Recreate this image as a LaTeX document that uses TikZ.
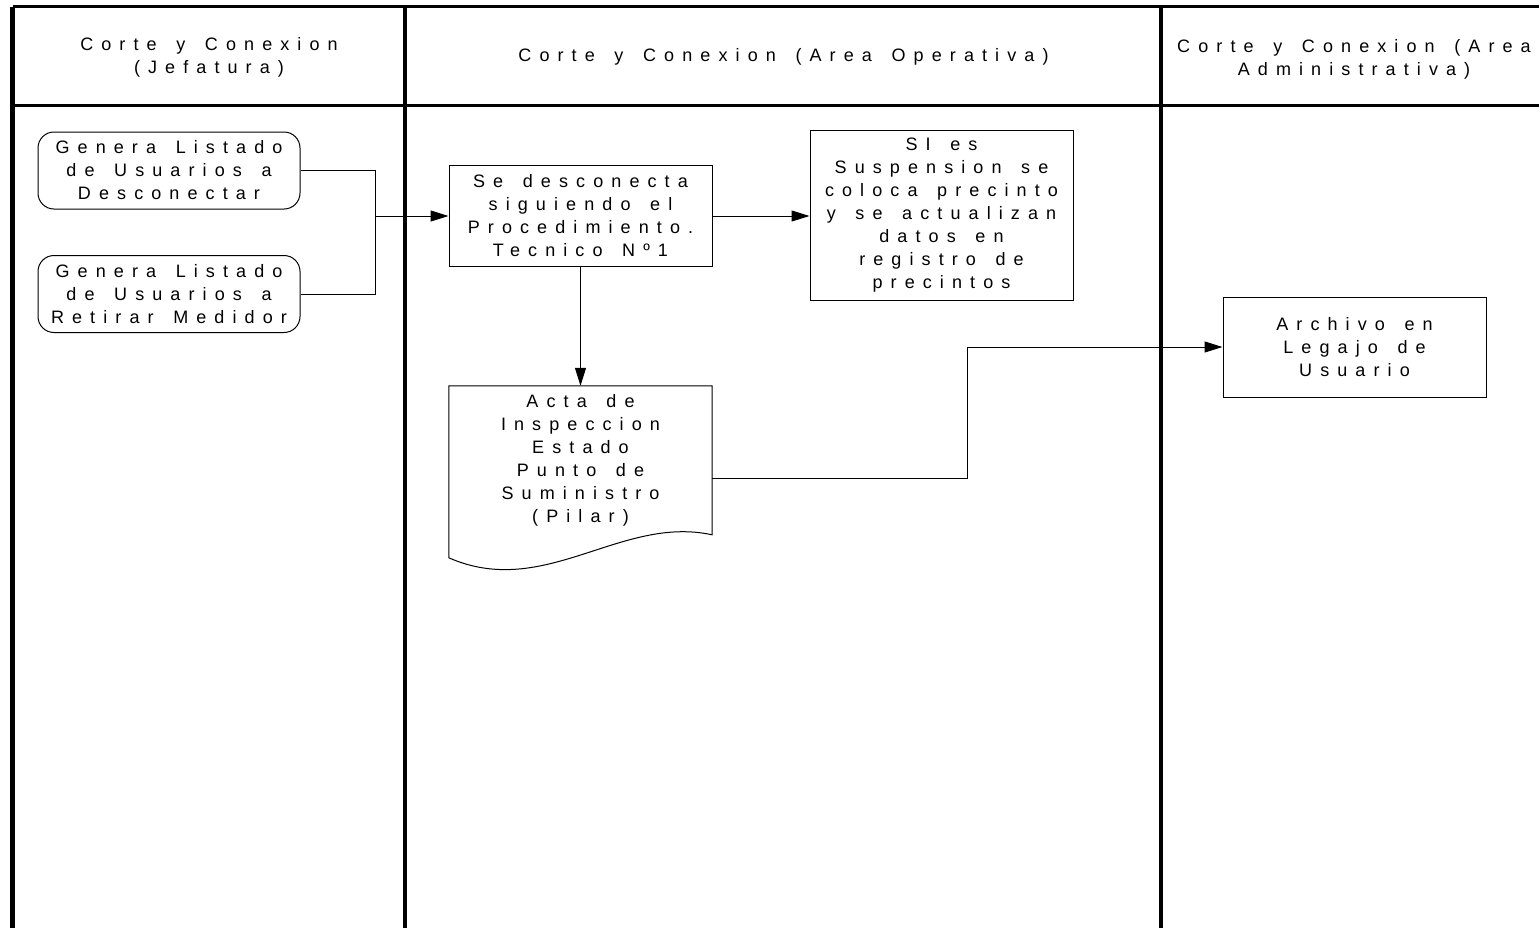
\documentclass[tikz,border=0pt]{standalone}
\usepackage{fontspec}
\setmainfont{Liberation Sans}[LetterSpace=45, WordSpace=1.5]
\usetikzlibrary{calc,arrows.meta}

\begin{document}
\begin{tikzpicture}[x=1pt, y=-1pt, every node/.style={font=\fontsize{18}{23}\selectfont, align=center}]
  % -----------------------------
  % SETTINGS (pixel grid, y down)
  % -----------------------------
  \def\xL{12.5}    % left border
  \def\xA{405}     % Jefatura | Operativa
  \def\xB{1161}    % Operativa | Administrativa
  \def\xR{1553}    % right border (outside page)
  \def\yTop{6.5}
  \def\yHead{105}
  \def\yBot{960}

  % -----------------------------
  % STYLES
  % -----------------------------
  \tikzset{
    lanerule/.style={line width=4.5pt},
    headrule/.style={line width=3pt},
    hdtxt/.style={inner sep=0pt},
    proc/.style={draw, line width=1pt, inner sep=0pt, minimum width=263, minimum height=101},
    start/.style={proc, rounded corners=16pt, minimum width=262, minimum height=77},
    docbox/.style={inner sep=0pt, minimum width=263, minimum height=184},
    link/.style={line width=1pt},
    arr/.style={link, -{Triangle[length=18pt, width=11pt]}},
  }

  \useasboundingbox (0,0) rectangle (1539,927);

  % -----------------------------
  % SWIMLANES
  % -----------------------------
  \begin{scope}
    \clip (0,0) rectangle (1539,927);
    \draw[headrule] (\xL,\yTop) -- (\xR,\yTop);
    \draw[headrule] (\xL,\yHead) -- (\xR,\yHead);
    \foreach \x in {\xL,\xA,\xB,\xR}
      \draw[lanerule] (\x,\yTop) -- (\x,\yBot);
  \end{scope}

  \node[hdtxt] (hdJef) at (209,57.5) {Corte y Conexion\\(Jefatura)};
  \node[hdtxt] (hdOpe) at (783.5,57) {Corte y Conexion (Area Operativa)};
  \node[hdtxt] (hdAdm) at (1354,59) {Corte y Conexion (Area\\Administrativa)};

  % -----------------------------
  % STEPS
  % -----------------------------
  \node[start] (gen1) at (169,170.5) {Genera Listado\\de Usuarios a\\Desconectar};
  \node[start] (gen2) at (169,294) {Genera Listado\\de Usuarios a\\Retirar Medidor};

  \node[proc] (desc) at (580.5,215.5) {Se desconecta\\siguiendo el\\Procedimiento.\\Tecnico Nº1};
  \node[proc, minimum height=170] (susp) at (941.5,215) {SI es\\Suspension se\\coloca precinto\\y se actualizan\\datos en\\registro de\\precintos};

  % document shape: outline drawn from the anchors, text in the flat part
  \node[docbox] (acta) at (580.5,478) {};
  \draw[line width=1pt] (acta.north west) -- (acta.north east)
    -- ($(acta.north east)+(0,149)$)
    .. controls ($(acta.north east)+(-92,129)$) and ($(acta.north west)+(96,214)$)
    .. ($(acta.north west)+(0,172)$) -- cycle;
  \node (actatxt) at (580.5,460.5) {Acta de\\Inspeccion\\Estado\\Punto de\\Suministro\\(Pilar)};

  \node[proc, minimum height=100] (arch) at (1354.5,347) {Archivo en\\Legajo de\\Usuario};

  % -----------------------------
  % CONNECTORS
  % -----------------------------
  \coordinate (join) at (375,216);
  \draw[link] (gen1.east) -| (join);
  \draw[link] (gen2.east) -| (join);
  \draw[arr] (join) -- (join -| desc.west);

  \draw[arr] (desc.east |- join) -- (join -| susp.west);
  \draw[arr] (desc.south) -- (acta.north);
  \draw[arr] (acta.east) -- ++(255,0) |- (arch.west);
\end{tikzpicture}
\end{document}
